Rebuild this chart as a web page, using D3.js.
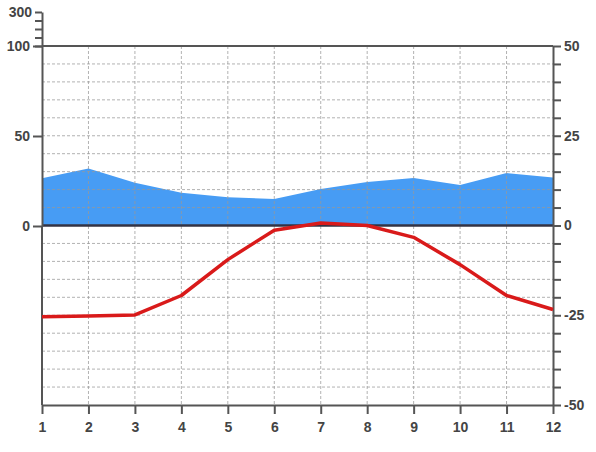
<!DOCTYPE html>
<html>
<head>
<meta charset="utf-8">
<script src="https://cdn.jsdelivr.net/npm/d3@7"></script>
<style>
  body { margin: 0; background: #fff; }
  svg text { font-family: "Liberation Sans", Arial, sans-serif; font-size: 14px; font-weight: bold; fill: #444; }
  .axis path, .axis line { stroke: #555; stroke-width: 2; }
  .grid { stroke: #999; stroke-width: 1; stroke-dasharray: 3,2; opacity: 0.75; }
</style>
</head>
<body>
<div id="chart"></div>
<script>
var months = [1, 2, 3, 4, 5, 6, 7, 8, 9, 10, 11, 12];
var precip = [26.5, 32, 24, 18.5, 16, 15, 20.5, 24.4, 26.7, 22.8, 29.4, 27];
var temp = [-25.4, -25.2, -24.9, -19.5, -9.5, -1.3, 0.7, 0, -3.3, -10.9, -19.5, -23.4];
var precipTicks = [0, 50, 100];
var topTicks = [100, 150, 200, 250, 300];
var tempTicks = d3.range(-50, 51, 5);
var tempLabels = [-50, -25, 0, 25, 50];

var width = 596, height = 452;
var plotLeft = 42, plotRight = 553, plotTop = 46, plotBottom = 405;

var svg = d3.select("#chart").append("svg")
    .attr("width", width)
    .attr("height", height);

var x = d3.scaleLinear().domain([1, 12]).range([plotLeft, plotRight]);
var yP = d3.scaleLinear().domain([0, 100]).range([226, plotTop]);
var yT = d3.scaleLinear().domain([-50, 50]).range([plotBottom, plotTop]);
var yTop = d3.scaleLinear().domain([100, 300]).range([plotTop, 12]);

// precipitation area
var area = d3.area()
    .x(function (d, i) { return x(months[i]); })
    .y0(yP(0))
    .y1(function (d) { return yP(d); });

svg.append("path")
    .datum(precip)
    .attr("fill", "#479cf4")
    .attr("d", area);

// grid
svg.append("g").selectAll("line")
    .data(tempTicks.filter(function (d) { return d != 0 && Math.abs(d) != 50; }))
    .enter().append("line")
    .attr("class", "grid")
    .attr("x1", plotLeft).attr("x2", plotRight)
    .attr("y1", function (d) { return yT(d); })
    .attr("y2", function (d) { return yT(d); });

svg.append("g").selectAll("line")
    .data(months.slice(1, 11))
    .enter().append("line")
    .attr("class", "grid")
    .attr("x1", function (d) { return x(d); })
    .attr("x2", function (d) { return x(d); })
    .attr("y1", plotTop).attr("y2", plotBottom);

// frame lines
svg.append("line")
    .attr("x1", plotLeft).attr("x2", plotRight)
    .attr("y1", plotTop).attr("y2", plotTop)
    .attr("stroke", "#555").attr("stroke-width", 2);

svg.append("line")
    .attr("x1", plotLeft).attr("x2", plotRight)
    .attr("y1", yT(0)).attr("y2", yT(0))
    .attr("stroke", "#334").attr("stroke-width", 2.5);

// axes
svg.append("g")
    .attr("class", "axis")
    .attr("transform", "translate(0," + plotBottom + ")")
    .call(d3.axisBottom(x).tickValues(months).tickSize(9).tickSizeOuter(0).tickPadding(8).tickFormat(d3.format("d")));

svg.append("g")
    .attr("class", "axis")
    .attr("transform", "translate(" + plotLeft + ",0)")
    .call(d3.axisLeft(yP).tickValues(precipTicks).tickSize(9).tickSizeOuter(0).tickPadding(3));

svg.append("g")
    .attr("class", "axis")
    .attr("transform", "translate(" + plotLeft + ",0)")
    .call(d3.axisLeft(yTop).tickValues(topTicks).tickSize(7).tickSizeOuter(0).tickPadding(3)
        .tickFormat(function (d) { return d == 300 ? d : ""; }));

svg.append("line")
    .attr("x1", plotLeft).attr("x2", plotLeft)
    .attr("y1", yP(0)).attr("y2", plotBottom)
    .attr("stroke", "#555").attr("stroke-width", 2);

svg.append("g")
    .attr("class", "axis")
    .attr("transform", "translate(" + plotRight + ",0)")
    .call(d3.axisRight(yT).tickValues(tempTicks).tickSize(8).tickSizeOuter(0).tickPadding(3)
        .tickFormat(function (d) { return tempLabels.indexOf(d) >= 0 ? d : ""; }));

// temperature line
var line = d3.line()
    .x(function (d, i) { return x(months[i]); })
    .y(function (d) { return yT(d); });

svg.append("path")
    .datum(temp)
    .attr("fill", "none")
    .attr("stroke", "#d91a1a")
    .attr("stroke-width", 3.5)
    .attr("stroke-linejoin", "round")
    .attr("d", line);
</script>
</body>
</html>
